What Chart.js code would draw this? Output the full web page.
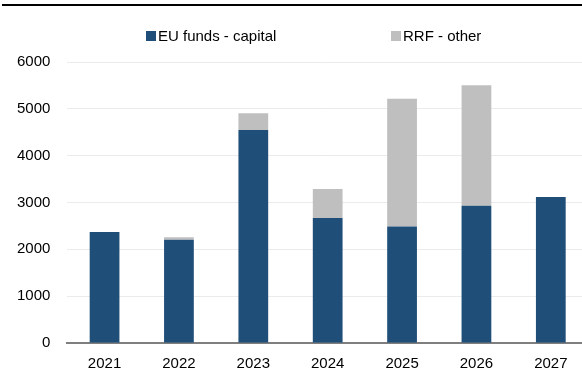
<!DOCTYPE html>
<html>
<head>
<meta charset="utf-8">
<script src="https://cdn.jsdelivr.net/npm/chart.js@4/dist/chart.umd.min.js"></script>
<style>
  html, body { margin: 0; padding: 0; background: #fff; }
  #wrap { position: relative; width: 582px; height: 376px; overflow: hidden; }
  #rule { position: absolute; left: 2px; right: 0; top: 4px; height: 2px; background: #000; }
  #chart { position: absolute; left: 0; top: 0; }
  .legend { position: absolute; font-family: "Liberation Sans", Arial, sans-serif; font-size: 15px; line-height: 17px; color: #000; white-space: nowrap; }
  .swatch { position: absolute; width: 10px; height: 10px; }
</style>
</head>
<body>
<div id="wrap">
  <div id="rule"></div>
  <canvas id="chart" width="590" height="376"></canvas>
  <div class="swatch" id="sw0" style="left:146px; top:31px;"></div>
  <div class="legend" id="lg0" style="left:158px; top:27px;"></div>
  <div class="swatch" id="sw1" style="left:391px; top:31px;"></div>
  <div class="legend" id="lg1" style="left:403px; top:27px;"></div>
</div>
<script>
// Annual amounts by year
const years = ['2021', '2022', '2023', '2024', '2025', '2026', '2027'];
const euFundsCapital = [2370, 2205, 4550, 2670, 2485, 2930, 3120];
const rrfOther = [0, 55, 355, 620, 2730, 2575, 0];
const seriesNames = ['EU funds - capital', 'RRF - other'];
const seriesColors = ['#1f4e79', '#bfbfbf'];
const yTicks = [0, 1000, 2000, 3000, 4000, 5000, 6000];

// Legend entries
seriesNames.forEach((name, i) => {
  document.getElementById('sw' + i).style.background = seriesColors[i];
  document.getElementById('lg' + i).textContent = name;
});

const font = { family: '"Liberation Sans", Arial, sans-serif', size: 15 };

new Chart(document.getElementById('chart'), {
  type: 'bar',
  data: {
    labels: years,
    datasets: [
      { label: seriesNames[0], data: euFundsCapital, backgroundColor: seriesColors[0] },
      { label: seriesNames[1], data: rrfOther, backgroundColor: seriesColors[1] }
    ]
  },
  options: {
    responsive: false,
    animation: false,
    devicePixelRatio: 1,
    layout: { padding: { top: 62, left: 0, right: 2, bottom: -9 } },
    datasets: { bar: { categoryPercentage: 1, barPercentage: 0.4 } },
    plugins: { legend: { display: false }, tooltip: { enabled: false } },
    scales: {
      x: {
        stacked: true,
        grid: { display: false, drawTicks: false },
        border: { display: true, color: '#7f7f7f', width: 2 },
        ticks: { color: '#000', font: font, padding: 12 }
      },
      y: {
        stacked: true,
        min: 0,
        max: 6000,
        afterBuildTicks: (axis) => { axis.ticks = yTicks.map(v => ({ value: v })); },
        grid: { color: '#ebebeb', lineWidth: 1, drawTicks: false },
        border: { display: false },
        ticks: { color: '#000', font: font, padding: 17, callback: (v) => String(v) }
      }
    }
  }
});
</script>
</body>
</html>
